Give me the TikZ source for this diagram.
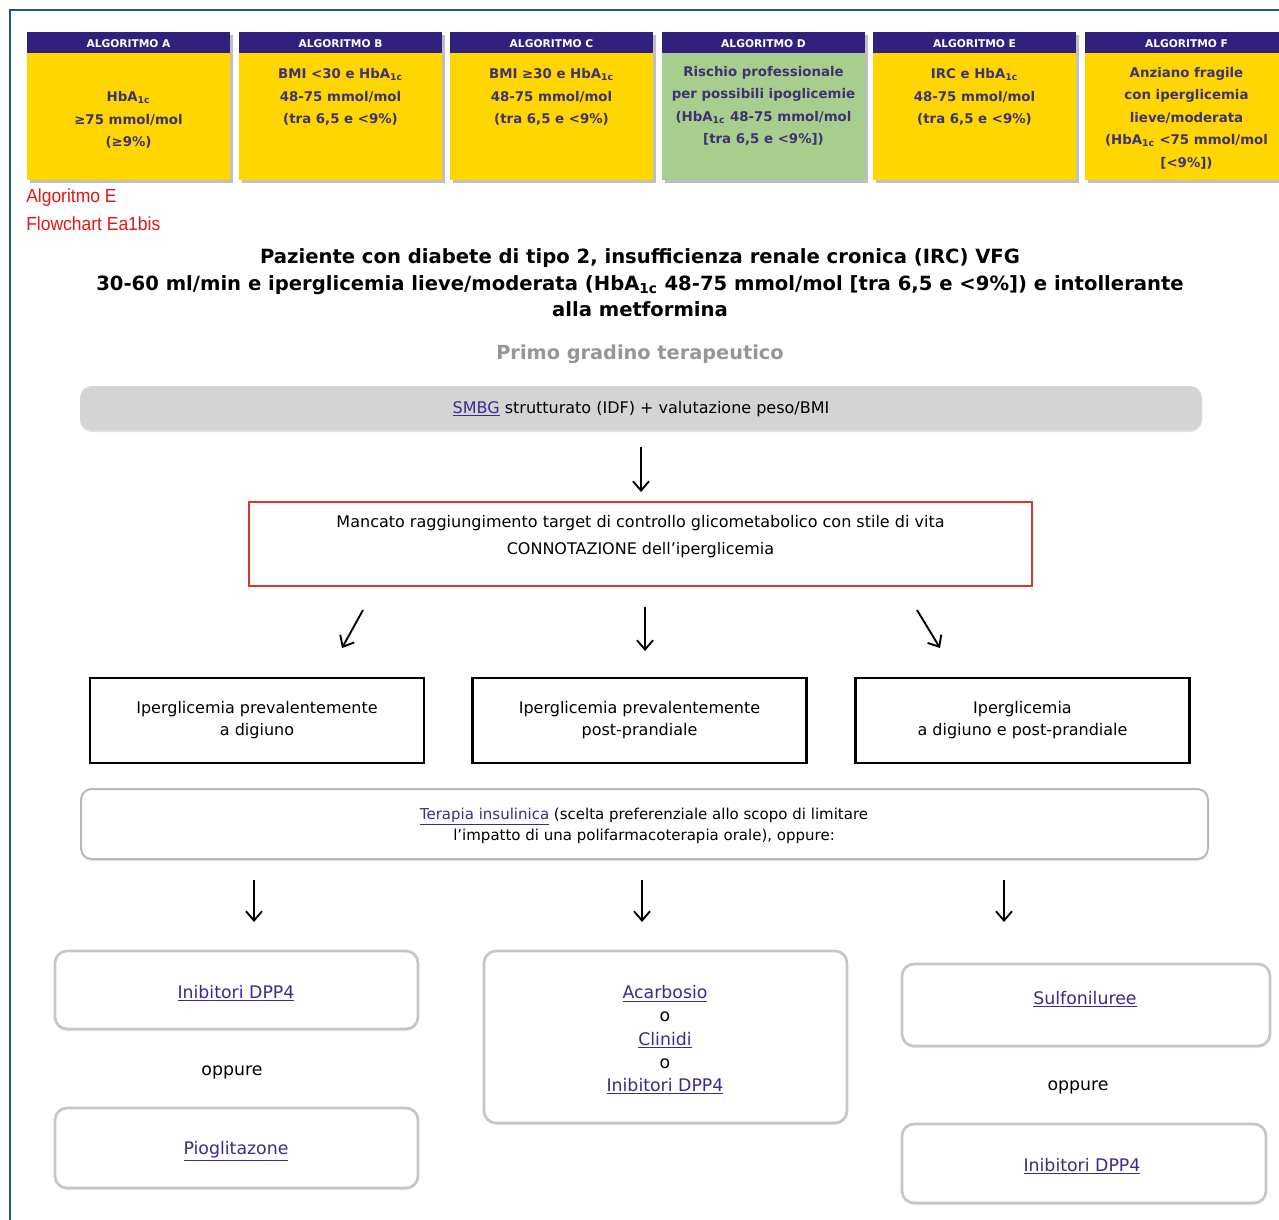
\documentclass[tikz,border=0pt]{standalone}
\usepackage{fontspec}
\setmainfont{DejaVu Sans}
\newfontfamily\hdrfont{DejaVu Sans}
\newfontfamily\redfont[FakeStretch=0.92]{Liberation Sans}
\usetikzlibrary{arrows.meta,shadows}
\definecolor{frameblue}{RGB}{30,85,150}
\definecolor{hdrpurple}{RGB}{50,32,125}
\definecolor{hdryellow}{RGB}{255,214,0}
\definecolor{hdrgreen}{RGB}{168,206,142}
\definecolor{hdrtext}{RGB}{62,50,112}
\definecolor{linkc}{RGB}{55,45,140}
\definecolor{redtxt}{RGB}{230,20,25}
\definecolor{boxred}{RGB}{215,55,40}
\definecolor{barGray}{RGB}{212,212,212}
\definecolor{titlegray}{RGB}{150,150,150}
\newcommand{\lnk}[1]{{\color{linkc}\underline{#1}}}
\tikzset{
  hlabel/.style={font=\hdrfont\bfseries\fontsize{8}{9}\selectfont, text=white, inner sep=0},
  htext/.style={font=\hdrfont\bfseries\fontsize{10}{16.9}\selectfont, text=hdrtext, align=center, inner sep=0},
  redlabel/.style={font=\redfont\fontsize{14.25}{16}\selectfont, text=redtxt, anchor=west, inner sep=0},
  titlest/.style={font=\bfseries\fontsize{14.7}{20}\selectfont, align=center, inner sep=0},
  subtitle/.style={font=\bfseries\fontsize{14.5}{16}\selectfont, text=titlegray, inner sep=0},
  body/.style={font=\fontsize{12}{16.5}\selectfont, align=center, inner sep=0},
  bodysm/.style={font=\fontsize{11.25}{16}\selectfont, align=center, inner sep=0},
  bodylg/.style={font=\fontsize{13}{17.4}\selectfont, align=center, inner sep=0},
  arr/.style={line width=1.4pt, -{Straight Barb[length=7pt,width=12pt]}},
  smbgst/.style={fill=barGray, rounded corners=9pt, minimum width=841.5pt, minimum height=33pt, inner sep=0,
     drop shadow={opacity=0.25, shadow xshift=0pt, shadow yshift=-1.5pt}},
  redboxst/.style={draw=boxred, line width=1.5pt, fill=white, minimum width=587.25pt, minimum height=63pt, inner sep=0},
  blackbox/.style={draw=black, line width=1.8pt, fill=white, minimum width=250.5pt, minimum height=63.75pt, inner sep=0},
  terbox/.style={draw=gray!55, line width=1.5pt, fill=white, rounded corners=8pt, minimum width=845.25pt, minimum height=52.5pt, inner sep=0,
     drop shadow={opacity=0.2, shadow xshift=0pt, shadow yshift=-1.5pt}},
  gbox/.style={draw=gray!45, line width=2pt, fill=white, rounded corners=9pt, inner sep=0,
     drop shadow={opacity=0.15, shadow xshift=0pt, shadow yshift=-1.5pt}}
}
\begin{document}
\begin{tikzpicture}[x=0.75pt,y=-0.75pt]
\useasboundingbox (0,0) rectangle (1279,1220);
\fill[white] (0,0) rectangle (1279,1220);
\draw[frameblue,line width=1.1pt] (10,1220) -- (10,10) -- (1279,10);

% header boxes
\foreach \x/\lab/\col in {27/A/hdryellow,239/B/hdryellow,450/C/hdryellow,662/D/hdrgreen,873/E/hdryellow,1085/F/hdryellow}{
  \fill[gray!50] (\x+3,35) rectangle (\x+206,183);
  \fill[\col] (\x,32) rectangle (\x+203,180);
  \fill[hdrpurple] (\x,32) rectangle (\x+203,53);
  \node[hlabel] (h\lab) at (\x+101.5,44) {ALGORITMO \lab};
}
\node[htext] (tA) at (128.5,120) {HbA\textsubscript{1c}\\≥75 mmol/mol\\(≥9\%)};
\node[htext] (tB) at (340.5,97) {BMI <30 e HbA\textsubscript{1c}\\48-75 mmol/mol\\(tra 6,5 e <9\%)};
\node[htext] (tC) at (551.5,97) {BMI ≥30 e HbA\textsubscript{1c}\\48-75 mmol/mol\\(tra 6,5 e <9\%)};
\node[htext] (tD) at (763.5,106) {Rischio professionale\\per possibili ipoglicemie\\(HbA\textsubscript{1c} 48-75 mmol/mol\\{[}tra 6,5 e <9\%])};
\node[htext] (tE) at (974.5,97) {IRC e HbA\textsubscript{1c}\\48-75 mmol/mol\\(tra 6,5 e <9\%)};
\node[htext] (tF) at (1186.5,118) {Anziano fragile\\con iperglicemia\\lieve/moderata\\(HbA\textsubscript{1c} <75 mmol/mol\\{[}<9\%])};

% red labels
\node[redlabel] (alg) at (26,198) {Algoritmo E};
\node[redlabel] (flow) at (26,224) {Flowchart Ea1bis};

% title
\node[titlest] (title) at (640,283) {Paziente con diabete di tipo 2, insufficienza renale cronica (IRC) VFG\\30-60 ml/min e iperglicemia lieve/moderata (HbA\textsubscript{1c} 48-75 mmol/mol [tra 6,5 e <9\%]) e intollerante\\alla metformina};
\node[subtitle] (primo) at (640,354) {Primo gradino terapeutico};

% SMBG bar
\node[smbgst] (smbg) at (641,408) {};
\node[body] (smbgtext) at (641,409) {\lnk{SMBG} strutturato (IDF) + valutazione peso/BMI};

\coordinate (a0s) at (641,447); \coordinate (a0e) at (641,492);
\draw[arr] (a0s) -- (a0e);

% red box
\node[redboxst] (redbox) at (640.5,544) {};
\node[body, font=\fontsize{12}{20.25}\selectfont] (redtext) at (640.5,537) {Mancato raggiungimento target di controllo glicometabolico con stile di vita\\CONNOTAZIONE dell'iperglicemia};

\coordinate (a1s) at (363,610); \coordinate (a1e) at (342,648);
\coordinate (a2s) at (645,607); \coordinate (a2e) at (645,651);
\coordinate (a3s) at (917,610); \coordinate (a3e) at (940,648);
\draw[arr] (a1s) -- (a1e);
\draw[arr] (a2s) -- (a2e);
\draw[arr] (a3s) -- (a3e);

% three black boxes
\node[blackbox] (b1) at (257,720.5) {};
\node[blackbox] (b2) at (639.5,720.5) {};
\node[blackbox] (b3) at (1022.5,720.5) {};
\node[body] (b1t) at (257,720.5) {Iperglicemia prevalentemente\\a digiuno};
\node[body] (b2t) at (639.5,720.5) {Iperglicemia prevalentemente\\post-prandiale};
\node[body] (b3t) at (1022.5,720.5) {Iperglicemia\\a digiuno e post-prandiale};

% terapia box
\node[terbox] (ter) at (644.5,824) {};
\node[bodysm] (tert) at (644,826) {\lnk{Terapia insulinica} (scelta preferenziale allo scopo di limitare\\l'impatto di una polifarmacoterapia orale), oppure:};

\coordinate (c1s) at (254,880); \coordinate (c1e) at (254,922);
\coordinate (c2s) at (642,880); \coordinate (c2e) at (642,922);
\coordinate (c3s) at (1004,880); \coordinate (c3e) at (1004,922);
\draw[arr] (c1s) -- (c1e);
\draw[arr] (c2s) -- (c2e);
\draw[arr] (c3s) -- (c3e);

% bottom boxes
\node[gbox, minimum width=272.25pt, minimum height=58.5pt] (L1) at (236.5,990) {};
\node[gbox, minimum width=272.25pt, minimum height=60pt] (L2) at (236.5,1148) {};
\node[gbox, minimum width=272.25pt, minimum height=129pt] (M) at (665.5,1037) {};
\node[gbox, minimum width=276pt, minimum height=61.5pt] (R1) at (1086,1005) {};
\node[gbox, minimum width=273pt, minimum height=59.25pt] (R2) at (1084,1163.5) {};

\node[bodylg] (L1t) at (236,993) {\lnk{Inibitori DPP4}};
\node[bodylg] (L2t) at (236,1151) {\lnk{Pioglitazone}};
\node[bodylg] (Mt) at (665,1040) {\lnk{Acarbosio}\\o\\\lnk{Clinidi}\\o\\\lnk{Inibitori DPP4}};
\node[bodylg] (R1t) at (1085,999) {\lnk{Sulfoniluree}};
\node[bodylg] (R2t) at (1082,1166) {\lnk{Inibitori DPP4}};
\node[bodylg] (opL) at (232,1072) {oppure};
\node[bodylg] (opR) at (1078,1087) {oppure};
\end{tikzpicture}
\end{document}
